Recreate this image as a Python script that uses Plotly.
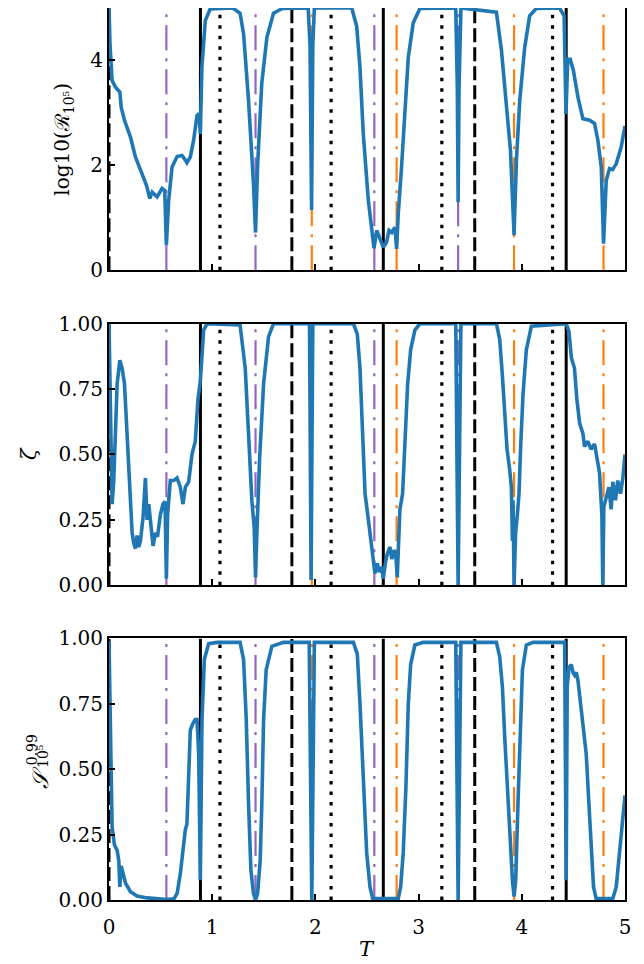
import plotly.graph_objects as go
from plotly.subplots import make_subplots

# ---------------- data ----------------
T_top = [0, 0.01, 0.03, 0.063, 0.105, 0.118, 0.15, 0.208, 0.256, 0.305, 0.363, 0.395, 0.418, 0.466,
         0.514, 0.54, 0.556, 0.578, 0.611, 0.66, 0.708, 0.74, 0.755, 0.788, 0.82, 0.853, 0.873, 0.885,
         0.90, 0.933, 0.98, 1.2, 1.27, 1.304, 1.352, 1.40, 1.42, 1.44, 1.48, 1.53, 1.594, 1.68, 1.93,
         1.948, 1.963, 1.975, 1.99, 2.352, 2.40, 2.432, 2.464, 2.513, 2.545, 2.568, 2.594, 2.626, 2.658,
         2.69, 2.713, 2.74, 2.771, 2.787, 2.803, 2.835, 2.868, 2.90, 2.948, 3.013, 3.36, 3.375, 3.383,
         3.392, 3.41, 3.754, 3.803, 3.851, 3.89, 3.925, 3.948, 3.98, 4.028, 4.076, 4.14, 4.366, 4.41,
         4.428, 4.445, 4.47, 4.50, 4.544, 4.592, 4.657, 4.705, 4.737, 4.77, 4.792, 4.818, 4.85, 4.88,
         4.915, 4.963, 5.0]
log_R = [5.0, 4.3, 3.62, 3.49, 3.40, 3.11, 2.86, 2.54, 2.16, 1.90, 1.62, 1.37, 1.49, 1.40,
         1.56, 1.52, 0.48, 1.33, 1.97, 2.17, 2.19, 2.10, 2.05, 2.16, 2.48, 2.95, 2.99, 2.60,
         3.87, 4.76, 4.98, 5.0, 4.9, 4.51, 3.24, 1.65, 0.72, 2.0, 3.56, 4.44, 4.9, 4.99, 5.0,
         4.3, 1.15, 4.3, 5.0, 5.0, 4.65, 3.87, 2.60, 1.33, 0.76, 0.42, 0.76, 0.61, 0.44,
         0.54, 0.76, 0.72, 0.82, 0.41, 1.08, 1.97, 3.11, 4.06, 4.72, 4.99, 5.0, 3.5, 1.30,
         3.5, 5.0, 4.92, 4.19, 3.11, 2.29, 0.67, 2.10, 3.24, 4.25, 4.85, 4.99, 5.0, 4.85,
         2.98, 4.02, 4.02, 3.81, 3.30, 2.89, 2.86, 2.80, 2.48, 1.97, 0.51, 1.71, 1.94, 1.92,
         2.03, 2.35, 2.75]

T_mid = [0, 0.015, 0.03, 0.046, 0.062, 0.079, 0.105, 0.127, 0.15, 0.176, 0.2, 0.224, 0.24, 0.256,
         0.272, 0.288, 0.305, 0.33, 0.353, 0.369, 0.385, 0.408, 0.427, 0.45, 0.47, 0.498, 0.523,
         0.543, 0.556, 0.568, 0.594, 0.626, 0.659, 0.691, 0.717, 0.74, 0.772, 0.804, 0.836, 0.862,
         0.885, 0.917, 0.95, 1.27, 1.32, 1.352, 1.384, 1.407, 1.42, 1.433, 1.459, 1.498, 1.546,
         1.594, 1.943, 1.958, 1.975, 2.368, 2.406, 2.432, 2.455, 2.481, 2.507, 2.529, 2.545, 2.561,
         2.577, 2.6, 2.619, 2.642, 2.658, 2.677, 2.697, 2.723, 2.74, 2.761, 2.78, 2.793, 2.803,
         2.819, 2.845, 2.868, 2.894, 2.923, 2.964, 3.013, 3.36, 3.383, 3.41, 3.754, 3.786, 3.812,
         3.835, 3.857, 3.883, 3.899, 3.909, 3.915, 3.925, 3.94, 3.957, 3.973, 3.989, 4.012, 4.044,
         4.093, 4.43, 4.457, 4.48, 4.51, 4.534, 4.56, 4.592, 4.608, 4.64, 4.67, 4.705, 4.73, 4.753,
         4.776, 4.785, 4.795, 4.818, 4.844, 4.866, 4.882, 4.908, 4.93, 4.957, 4.979, 5.0]
zeta = [1.0, 0.6, 0.31, 0.40, 0.58, 0.77, 0.86, 0.83, 0.77, 0.58, 0.36, 0.20, 0.16, 0.14,
        0.19, 0.146, 0.17, 0.26, 0.41, 0.25, 0.31, 0.20, 0.15, 0.20, 0.185, 0.27, 0.31,
        0.32, 0.025, 0.27, 0.40, 0.40, 0.41, 0.375, 0.31, 0.375, 0.395, 0.50, 0.55, 0.71,
        0.78, 0.975, 1.0, 0.995, 0.83, 0.58, 0.325, 0.22, 0.03, 0.20, 0.48, 0.77, 0.95,
        1.0, 1.0, 0.02, 1.0, 1.0, 0.96, 0.83, 0.58, 0.35, 0.27, 0.20, 0.14, 0.08,
        0.045, 0.083, 0.05, 0.07, 0.025, 0.083, 0.12, 0.146, 0.10, 0.134, 0.11, 0.03, 0.17,
        0.29, 0.35, 0.55, 0.77, 0.90, 0.975, 1.0, 1.0, 0.0, 1.0, 1.0, 0.94, 0.80,
        0.64, 0.52, 0.44, 0.375, 0.17, 0.325, 0.0, 0.20, 0.27, 0.35, 0.53, 0.73, 0.90,
        0.99, 1.0, 0.97, 0.87, 0.83, 0.71, 0.62, 0.58, 0.53, 0.55, 0.52, 0.54, 0.49, 0.43,
        0.27, 0.0, 0.30, 0.34, 0.375, 0.29, 0.395, 0.325, 0.40, 0.35, 0.41, 0.50]

T_bot = [0, 0.016, 0.03, 0.053, 0.079, 0.095, 0.105, 0.118, 0.137, 0.16, 0.208, 0.272, 0.369, 0.466,
         0.563, 0.63, 0.66, 0.691, 0.717, 0.74, 0.755, 0.772, 0.788, 0.813, 0.836, 0.853, 0.869,
         0.885, 0.901, 0.924, 0.966, 1.05, 1.27, 1.304, 1.33, 1.352, 1.375, 1.4, 1.42, 1.44, 1.465,
         1.481, 1.498, 1.523, 1.578, 1.69, 1.94, 1.965, 1.99, 2.368, 2.406, 2.432, 2.464, 2.497,
         2.529, 2.555, 2.803, 2.826, 2.851, 2.877, 2.9, 2.923, 2.964, 3.045, 3.36, 3.383, 3.41,
         3.754, 3.786, 3.812, 3.835, 3.867, 3.889, 3.909, 3.925, 3.941, 3.963, 3.98, 4.006, 4.044,
         4.109, 4.415, 4.43, 4.44, 4.457, 4.48, 4.496, 4.512, 4.528, 4.544, 4.576, 4.598, 4.624,
         4.65, 4.672, 4.695, 4.72, 4.882, 4.915, 4.937, 4.957, 4.98, 5.0]
S_val = [0.99, 0.50, 0.28, 0.21, 0.19, 0.15, 0.05, 0.13, 0.10, 0.064, 0.032, 0.015, 0.008, 0.004,
         0.002, 0.005, 0.025, 0.10, 0.20, 0.27, 0.29, 0.50, 0.65, 0.675, 0.69, 0.69, 0.56,
         0.076, 0.69, 0.92, 0.98, 0.985, 0.985, 0.92, 0.69, 0.37, 0.115, 0.025, 0.0, 0.025, 0.15,
         0.37, 0.69, 0.88, 0.97, 0.985, 0.985, 0.0, 0.985, 0.985, 0.94, 0.75, 0.43, 0.18,
         0.05, 0.006, 0.006, 0.05, 0.18, 0.43, 0.75, 0.90, 0.975, 0.985, 0.985, 0.0, 0.985,
         0.985, 0.93, 0.815, 0.62, 0.37, 0.24, 0.076, 0.013, 0.076, 0.37, 0.62, 0.88, 0.975,
         0.985, 0.985, 0.076, 0.815, 0.89, 0.90, 0.87, 0.86, 0.87, 0.84, 0.73, 0.64, 0.56,
         0.37, 0.18, 0.05, 0.006, 0.006, 0.05, 0.15, 0.24, 0.31, 0.40]

# reference vertical lines (T positions)
solid_T = [0.886, 2.658, 4.43]
dashed_T = [0.0, 1.772, 3.544]
dotted_T = [1.075, 2.152, 3.225, 4.298]
purple_T = [0.556, 1.42, 2.571, 3.383]
orange_T = [1.965, 2.787, 3.925, 4.792]

x_range = [0, 5]
y_ranges = [[0, 5], [0, 1], [0, 1]]
y_ticks = [[0, 2, 4], [0, 0.25, 0.5, 0.75, 1.0], [0, 0.25, 0.5, 0.75, 1.0]]
y_ticktext = [["0", "2", "4"], ["0.00", "0.25", "0.50", "0.75", "1.00"],
              ["0.00", "0.25", "0.50", "0.75", "1.00"]]
x_ticks = [0, 1, 2, 3, 4, 5]

# ---------------- figure ----------------
FONT = "DejaVu Serif"
BLUE = "#1f77b4"
PURPLE = "#9467bd"
ORANGE = "#ff7f0e"

fig = make_subplots(rows=3, cols=1, shared_xaxes=True)

vline_styles = [
    (purple_T, PURPLE, 2.2, "25px,8px,3px,8px"),
    (orange_T, ORANGE, 2.2, "25px,8px,3px,8px"),
    (dotted_T, "black", 3.2, "3.5px,7px"),
    (dashed_T, "black", 3.0, "14px,5px"),
    (solid_T, "black", 3.0, "solid"),
]

series = [(T_top, log_R), (T_mid, zeta), (T_bot, S_val)]

for r in range(3):
    lo, hi = y_ranges[r]
    for xs, col, w, dash in vline_styles:
        vx, vy = [], []
        for t in xs:
            vx += [t, t, None]
            vy += [lo, hi, None]
        fig.add_trace(go.Scatter(x=vx, y=vy, mode="lines",
                                 line=dict(color=col, width=w, dash=dash),
                                 showlegend=False, hoverinfo="skip"), row=r + 1, col=1)
    xs, ys = series[r]
    fig.add_trace(go.Scatter(x=xs, y=ys, mode="lines",
                             line=dict(color=BLUE, width=3.6),
                             showlegend=False), row=r + 1, col=1)

# figure is 636x956 (page body adds 8px); plot spans fig x 100.5..617.5, y 0..892
domains = [[0.7059, 1.0], [0.3529, 0.6462], [0.0, 0.2932]]
for r in range(3):
    ax_common = dict(showline=True, mirror=True, linecolor="black", linewidth=2,
                     showgrid=False, zeroline=False, ticks="inside", ticklen=6,
                     tickwidth=1.5, tickcolor="black", automargin=False,
                     tickfont=dict(family=FONT, size=20, color="black"))
    fig.update_xaxes(range=x_range, tickvals=x_ticks, ticktext=[str(v) for v in x_ticks],
                     showticklabels=(r == 2), ticklabelstandoff=8, **ax_common,
                     row=r + 1, col=1)
    fig.update_yaxes(range=y_ranges[r], tickvals=y_ticks[r], ticktext=y_ticktext[r],
                     domain=domains[r], ticklabelstandoff=0, **ax_common,
                     row=r + 1, col=1)

annots = [
    dict(text="log10(ℛ<sub>10⁵</sub>)", x=-0.088, y=0.853, textangle=-90,
         font=dict(family=FONT, size=20, color="black")),
    dict(text="<i>ζ</i>", x=-0.155, y=0.50, textangle=-90,
         font=dict(family=FONT, size=21, color="black")),
    dict(text="<i>𝒮</i>", x=-0.132, y=0.138, textangle=-90,
         font=dict(family=FONT, size=22, color="black")),
    dict(text="0.99", x=-0.149, y=0.168, textangle=-90,
         font=dict(family=FONT, size=14, color="black")),
    dict(text="10⁵", x=-0.127, y=0.162, textangle=-90,
         font=dict(family=FONT, size=14, color="black")),
    dict(text="<i>T</i>", x=0.5, y=-0.055, textangle=0,
         font=dict(family=FONT, size=21, color="black")),
]
for a in annots:
    fig.add_annotation(xref="paper", yref="paper", showarrow=False, borderpad=0,
                       xanchor="center", yanchor="middle", **a)

fig.update_layout(width=636, height=956, paper_bgcolor="white", plot_bgcolor="white",
                  margin=dict(l=100.5, r=18.5, t=0, b=64, pad=0), showlegend=False)

fig.write_html("out.html")
